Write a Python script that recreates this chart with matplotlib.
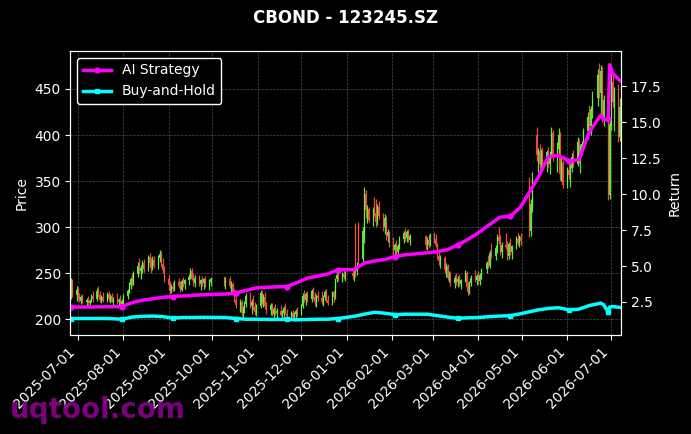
import numpy as np
import pandas as pd
import matplotlib
matplotlib.use('Agg')
import matplotlib.pyplot as plt
import matplotlib.dates as mdates

# trading calendar (weekdays minus exchange holidays)
holidays = ['2025-10-01', '2025-10-02', '2025-10-03', '2025-10-06', '2025-10-07', '2025-10-08',
            '2026-01-01', '2026-01-02',
            '2026-02-16', '2026-02-17', '2026-02-18', '2026-02-19', '2026-02-20', '2026-02-23',
            '2026-04-06', '2026-05-01', '2026-05-04', '2026-05-05', '2026-06-19']
dates = pd.bdate_range('2025-06-26', '2026-07-07')
dates = dates[~dates.isin(pd.to_datetime(holidays))]

# daily OHLC (one row per month)
open_ = [228, 240, 226,
         232, 224, 220, 224, 218, 221, 217, 220, 225, 222, 231, 226, 221, 224, 220, 227, 222, 225, 219, 222, 218, 221, 216,
         220, 225, 231, 237, 243, 239, 249, 258, 252, 256, 261, 254, 267, 261, 255, 264, 258, 266, 271, 260, 253,
         244, 237, 231, 235, 233, 240, 236, 232, 241, 238, 242, 246, 252, 244, 239, 245, 238, 242, 239, 243, 237, 240,
         243, 239, 244, 236, 238, 229, 221, 215, 218, 207, 211, 216, 225, 214, 219, 213, 208,
         214, 228, 219, 224, 214, 210, 215, 206, 211, 207, 209, 204, 207, 212, 206, 203, 207, 202, 205, 209,
         205, 214, 225, 221, 227, 222, 230, 224, 218, 225, 223, 219, 224, 229, 221, 217, 229, 224, 243, 248, 244, 249, 246,
         250, 247, 300, 252, 303, 265, 290, 336, 318, 320, 308, 318, 315, 305, 322, 312, 300, 310, 290, 295,
         282, 275, 280, 273, 279, 287, 293, 288, 295, 286, 290, 280, 286, 281,
         291, 287, 281, 268, 263, 266, 253, 258, 245, 249, 239, 245, 240, 244, 238, 242, 250, 235, 229, 239, 245, 242,
         247, 241, 248, 254, 261, 258, 272, 269, 277, 289, 285, 273, 281, 278, 268, 282, 273, 279, 287, 283, 289,
         350, 296, 325, 400, 378, 383, 368, 380, 372, 381, 369, 378, 402, 376, 385, 400, 358, 370,
         346, 362, 356, 364, 376, 369, 392, 374, 386, 390, 404, 420, 410, 428, 440, 465, 446, 470, 420, 438, 335,
         412, 458, 436, 447, 398]
high = [245, 243, 236,
        235, 228, 226, 227, 223, 225, 222, 227, 230, 234, 236, 230, 226, 229, 229, 230, 227, 228, 224, 228, 223, 226, 222,
        227, 233, 240, 246, 250, 252, 262, 266, 259, 264, 265, 270, 272, 266, 268, 269, 270, 275, 274, 266, 258,
        248, 241, 238, 240, 242, 245, 241, 243, 246, 244, 249, 255, 256, 250, 248, 248, 244, 247, 245, 247, 243, 246,
        247, 246, 247, 241, 240, 233, 226, 222, 221, 214, 220, 228, 229, 222, 226, 219, 216,
        232, 231, 227, 229, 218, 217, 217, 213, 216, 212, 215, 210, 214, 217, 211, 209, 210, 208, 211, 213,
        216, 228, 232, 229, 231, 233, 235, 229, 227, 231, 230, 226, 232, 233, 226, 231, 232, 245, 252, 253, 251, 254, 252,
        256, 255, 304, 262, 305, 300, 343, 340, 324, 322, 322, 333, 330, 325, 328, 315, 314, 312, 298, 296,
        289, 283, 286, 282, 290, 296, 299, 297, 298, 292, 291, 289, 290, 293,
        295, 292, 283, 273, 270, 268, 261, 260, 252, 251, 248, 250, 247, 249, 244, 253, 252, 240, 241, 248, 253, 249,
        252, 250, 256, 263, 270, 275, 283, 280, 292, 300, 291, 284, 293, 285, 284, 288, 281, 290, 293, 291, 294,
        354, 330, 360, 409, 386, 390, 385, 387, 384, 387, 383, 409, 405, 392, 408, 403, 375, 373,
        365, 373, 368, 380, 384, 398, 396, 390, 394, 408, 425, 433, 432, 448, 472, 478, 476, 474, 443, 443, 420,
        466, 467, 452, 455, 440]
low = [222, 224, 220,
       222, 218, 216, 217, 214, 215, 213, 218, 219, 220, 224, 218, 217, 219, 218, 220, 217, 218, 215, 216, 213, 214, 212,
       215, 222, 228, 233, 236, 237, 246, 249, 244, 250, 251, 252, 258, 250, 253, 255, 254, 262, 257, 250, 240,
       234, 227, 228, 230, 231, 234, 229, 230, 235, 233, 237, 243, 242, 236, 235, 236, 232, 236, 233, 235, 232, 236,
       236, 233, 234, 229, 226, 218, 212, 208, 203, 201, 207, 213, 212, 205, 210, 204, 203,
       212, 216, 213, 211, 206, 204, 203, 201, 204, 200, 203, 199, 202, 205, 200, 199, 200, 198, 201, 203,
       204, 212, 218, 215, 219, 218, 222, 214, 213, 220, 216, 214, 221, 219, 215, 215, 218, 222, 240, 241, 240, 243, 241,
       243, 241, 246, 248, 255, 262, 283, 310, 304, 305, 301, 312, 300, 302, 309, 296, 292, 286, 284, 278,
       270, 268, 271, 267, 276, 283, 285, 284, 284, 281, 276, 275, 277, 279,
       283, 278, 265, 259, 255, 250, 246, 242, 240, 236, 234, 237, 235, 236, 233, 240, 232, 226, 227, 236, 240, 237,
       238, 237, 244, 250, 256, 255, 266, 264, 272, 282, 270, 266, 276, 264, 265, 270, 265, 276, 280, 278, 281,
       289, 290, 316, 372, 360, 362, 359, 364, 360, 365, 358, 375, 372, 360, 380, 351, 350, 342,
       342, 352, 343, 360, 365, 366, 370, 359, 378, 386, 396, 405, 400, 418, 432, 440, 420, 414, 410, 329, 330,
       405, 430, 404, 392, 394]
close = [240, 226, 232,
         224, 220, 224, 218, 221, 217, 220, 225, 222, 231, 226, 221, 224, 220, 227, 222, 225, 219, 222, 218, 221, 216, 220,
         225, 231, 237, 243, 239, 249, 258, 252, 256, 261, 254, 267, 261, 255, 264, 258, 266, 271, 260, 253, 244,
         237, 231, 235, 233, 240, 236, 232, 241, 238, 242, 246, 252, 244, 239, 245, 238, 242, 239, 243, 237, 240, 243,
         239, 244, 236, 238, 229, 221, 215, 218, 207, 211, 216, 225, 214, 219, 213, 208, 214,
         228, 219, 224, 214, 210, 215, 206, 211, 207, 209, 204, 207, 212, 206, 203, 207, 202, 205, 209, 205,
         214, 225, 221, 227, 222, 230, 224, 218, 225, 223, 219, 224, 229, 221, 217, 229, 224, 243, 248, 244, 249, 246, 250,
         247, 251, 252, 258, 262, 296, 336, 318, 320, 308, 318, 315, 305, 322, 312, 300, 310, 290, 295, 282,
         275, 280, 273, 279, 287, 293, 288, 295, 286, 290, 280, 286, 281, 291,
         287, 281, 268, 263, 266, 253, 258, 245, 249, 239, 245, 240, 244, 238, 242, 250, 235, 229, 239, 245, 242, 247,
         241, 248, 254, 261, 258, 272, 269, 277, 289, 285, 273, 281, 278, 268, 282, 273, 279, 287, 283, 289, 285,
         295, 325, 352, 378, 383, 368, 380, 372, 381, 369, 378, 402, 376, 385, 400, 358, 370, 346,
         362, 356, 364, 376, 369, 392, 374, 386, 390, 404, 420, 410, 428, 440, 465, 446, 470, 420, 438, 335, 412,
         458, 436, 447, 399, 430]

# strategy curves, sampled on trading-day positions
line_idx = list(range(0, 240, 5)) + [240, 242, 243, 244, 246, 249]
ai_strategy = [2.15, 2.15, 2.15, 2.16, 2.17, 2.18, 2.45, 2.62, 2.72, 2.82, 2.88, 2.92, 2.97, 3.00, 3.05, 3.12,
               3.30, 3.48, 3.52, 3.55, 3.57, 3.85, 4.15, 4.30, 4.45, 4.73, 4.75, 5.20, 5.35, 5.45, 5.66, 5.78,
               5.92, 6.00, 6.13, 6.48, 6.85, 7.30, 7.90, 8.40, 8.45, 9.10, 11.15, 12.60, 12.70, 12.30, 12.40, 14.30,
               15.5, 15.2, 15.2, 19.0, 18.4, 17.9]
buy_hold = [1.35, 1.35, 1.35, 1.35, 1.34, 1.30, 1.45, 1.50, 1.52, 1.48, 1.38, 1.42, 1.42, 1.43, 1.42, 1.35,
            1.30, 1.30, 1.29, 1.28, 1.30, 1.26, 1.28, 1.30, 1.30, 1.35, 1.50, 1.65, 1.78, 1.72, 1.62, 1.65,
            1.65, 1.55, 1.45, 1.37, 1.40, 1.42, 1.48, 1.52, 1.55, 1.68, 1.95, 2.05, 2.10, 1.95, 2.00, 2.25,
            2.42, 2.30, 1.78, 2.15, 2.18, 2.12]

n = min(len(dates), len(close))
x = mdates.date2num(dates[:n])
o = np.array(open_[:n]); h = np.array(high[:n]); l = np.array(low[:n]); c = np.array(close[:n])
cols = np.where(c >= o, '#66ff44', '#ff5544')

fig, ax = plt.subplots(figsize=(6.91, 4.34), dpi=100)
fig.patch.set_facecolor('black')
ax.set_facecolor('black')
fig.subplots_adjust(left=0.102, right=0.899, top=0.8825, bottom=0.228)

ax.set_axisbelow(True)
ax.grid(True, linestyle='--', linewidth=0.5, color='gray', alpha=0.6)
ax.vlines(x, l, h, colors=cols, linewidth=0.9, alpha=0.9)
ax.bar(x, np.abs(c - o), bottom=np.minimum(o, c), width=0.7, color=cols, alpha=0.9)
ax.set_ylim(182.6, 491.3)
ax.set_xlim(mdates.date2num(pd.Timestamp('2025-06-25 21:00')),
            mdates.date2num(pd.Timestamp('2026-07-07 22:00')))
ax.xaxis.set_major_locator(mdates.MonthLocator())
ax.xaxis.set_major_formatter(mdates.DateFormatter('%Y-%m-%d'))
plt.setp(ax.get_xticklabels(), rotation=45, ha='right')
ax.set_ylabel('Price', color='white')

ax2 = ax.twinx()
lx = x[line_idx]
ax2.plot(lx, ai_strategy, color='magenta', lw=2.5, marker='o', markersize=3.5, markevery=5, label='AI Strategy')
ax2.plot(lx, buy_hold, color='cyan', lw=2.5, marker='s', markersize=3.5, markevery=5, label='Buy-and-Hold')
ax2.set_ylim(0.2, 19.95)
ax2.set_ylabel('Return', color='white')

for a in (ax, ax2):
    a.tick_params(colors='white', labelsize=10)
    for s in a.spines.values():
        s.set_color('white')

leg = ax2.legend(loc='upper left', facecolor='black', edgecolor='white', labelcolor='white', framealpha=1)

fig.suptitle('CBOND - 123245.SZ', color='white', fontsize=12, fontweight='bold', y=0.9585, va='center')
fig.text(0.014, 0.037, 'uqtool.com', fontsize=20, fontweight='bold', color='#8b008b', alpha=0.9, va='baseline')

fig.savefig('out.png', dpi=100, facecolor='black')
